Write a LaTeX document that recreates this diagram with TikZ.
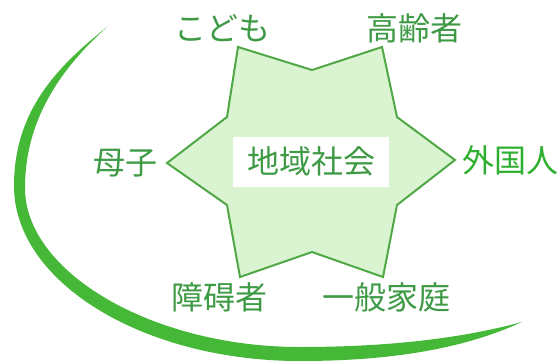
\documentclass[tikz,border=0pt]{standalone}
\usepackage{fontspec}
\newfontfamily\jp{Noto Sans CJK JP}
\definecolor{arcgreen}{HTML}{45B838}
\definecolor{stargreen}{HTML}{4FA845}
\definecolor{starfill}{HTML}{DAF4D2}
\definecolor{labelgreen}{HTML}{3E9A45}
\definecolor{brightgreen}{HTML}{2FAF2F}
\begin{document}
\begin{tikzpicture}[x=0.5pt,y=-0.5pt,
  lbl/.style={font=\jp\fontsize{16}{16}\selectfont, text=labelgreen, inner sep=0pt}]
\useasboundingbox (0,0) rectangle (560,360);
% crescent arc
\fill[arcgreen] (107,27) .. controls (58,66) and (14,110) .. (14,186)
  .. controls (14,282) and (143,361) .. (300,361)
  .. controls (400,361) and (470,346) .. (522,322)
  .. controls (470,336) and (400,347) .. (300,347)
  .. controls (152,347) and (25,272) .. (25,188)
  .. controls (25,115) and (66,64) .. (107,27) -- cycle;
% star
\draw[stargreen, line width=1pt, fill=starfill, line join=miter]
  (238,47) -- (312,70) -- (382,47) -- (397,117) -- (455,160) -- (397,205)
  -- (383,277) -- (312,252) -- (240,277) -- (227,205) -- (167,163) -- (227,117) -- cycle;
\node[fill=white, minimum width=78pt, minimum height=25pt, inner sep=0pt] (box) at (311,162) {};
\node[lbl] (center) at (311,161) {地域社会};
\node[lbl] (kodomo) at (222,28) {こども};
\node[lbl] (koureisha) at (414,28) {高齢者};
\node[lbl] (boshi) at (125,163) {母子};
\node[lbl, text=brightgreen] (gaikoku) at (510,160) {外国人};
\node[lbl] (shougai) at (219,297) {障碍者};
\node[lbl] (ippan) at (386,297) {一般家庭};
\end{tikzpicture}
\end{document}
